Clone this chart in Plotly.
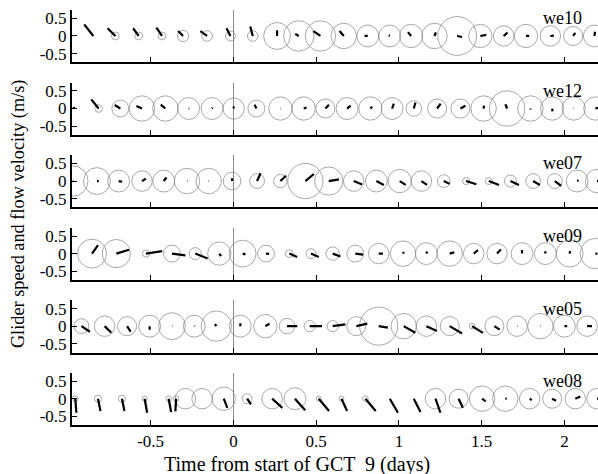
import plotly.graph_objects as go

# ---- glider records: sample time (days from start of GCT 9), glider speed (m/s),
# ---- depth-averaged flow components u (east) and v (north) in m/s
we10_t = [-0.846, -0.713, -0.572, -0.431, -0.304, -0.159, -0.018, 0.117, 0.264, 0.395, 0.526, 0.667,
          0.812, 0.945, 1.074, 1.215, 1.352, 1.492, 1.633, 1.768, 1.915, 2.053, 2.181]
we10_speed = [0.0, 0.11, 0.11, 0.11, 0.16, 0.15, 0.14, 0.15, 0.38, 0.43, 0.43, 0.36,
              0.31, 0.31, 0.33, 0.36, 0.55, 0.33, 0.29, 0.33, 0.29, 0.27, 0.31]
we10_u = [-0.26, -0.22, -0.16, -0.16, -0.14, -0.19, -0.11, -0.07, 0.0, -0.1, -0.2, -0.12,
          -0.09, -0.03, -0.09, 0.04, 0.14, 0.17, 0.11, 0.09, 0.1, 0.06, 0.02]
we10_v = [0.33, 0.22, 0.22, 0.24, 0.14, 0.14, 0.22, 0.27, 0.16, 0.06, 0.14, 0.14,
          0.0, 0.02, 0.11, 0.1, -0.03, 0.03, 0.1, 0.0, 0.01, 0.09, 0.12]

we12_t = [-0.96, -0.814, -0.683, -0.552, -0.411, -0.27, -0.129, 0.002, 0.139, 0.284, 0.425, 0.556,
          0.687, 0.828, 0.959, 1.09, 1.231, 1.372, 1.512, 1.654, 1.795, 1.926, 2.056, 2.187]
we12_speed = [0.0, 0.11, 0.24, 0.36, 0.36, 0.31, 0.31, 0.3, 0.24, 0.33, 0.33, 0.27,
              0.31, 0.33, 0.31, 0.22, 0.27, 0.27, 0.36, 0.5, 0.36, 0.33, 0.33, 0.33]
we12_u = [-0.03, -0.21, -0.16, -0.16, -0.13, 0.02, 0.02, 0.0, -0.05, 0.01, 0.08, 0.1,
          0.1, 0.05, 0.05, 0.05, 0.1, 0.14, 0.01, -0.05, 0.0, 0.01, 0.01, 0.08]
we12_v = [0.04, 0.26, 0.1, 0.07, 0.11, 0.0, 0.02, 0.06, 0.11, 0.0, 0.03, 0.11,
          0.08, 0.05, 0.14, 0.17, 0.14, 0.08, 0.08, 0.12, -0.03, -0.08, 0.0, 0.02]

we07_t = [-0.97, -0.824, -0.693, -0.552, -0.421, -0.28, -0.149, -0.008, 0.143, 0.284, 0.435, 0.576,
          0.727, 0.864, 1.005, 1.136, 1.271, 1.406, 1.543, 1.674, 1.811, 1.942, 2.077, 2.197]
we07_speed = [0.43, 0.38, 0.31, 0.29, 0.31, 0.36, 0.36, 0.25, 0.21, 0.19, 0.5, 0.4,
              0.29, 0.31, 0.33, 0.29, 0.18, 0.1, 0.1, 0.17, 0.21, 0.21, 0.31, 0.33]
we07_u = [0.02, 0.05, 0.1, 0.11, 0.08, 0.01, 0.01, 0.0, 0.1, 0.16, 0.24, 0.29,
          0.24, 0.21, 0.17, 0.16, 0.17, 0.29, 0.29, 0.24, 0.19, 0.18, 0.04, 0.06]
we07_v = [0.0, 0.0, -0.02, 0.07, 0.1, 0.0, 0.0, 0.08, 0.22, 0.15, 0.2, 0.05,
          -0.1, -0.11, -0.11, -0.11, -0.08, -0.09, -0.11, -0.11, -0.11, -0.14, 0.02, 0.0]

we09_t = [-0.854, -0.707, -0.528, -0.371, -0.23, -0.085, 0.056, 0.197, 0.338, 0.469, 0.6, 0.737,
          0.878, 1.025, 1.166, 1.307, 1.452, 1.593, 1.744, 1.885, 2.032, 2.187]
we09_speed = [0.41, 0.4, 0.1, 0.24, 0.17, 0.33, 0.38, 0.24, 0.11, 0.14, 0.19, 0.24,
              0.29, 0.36, 0.31, 0.36, 0.29, 0.29, 0.31, 0.31, 0.38, 0.43]
we09_u = [0.17, 0.36, 0.46, 0.38, 0.35, 0.05, 0.08, 0.09, 0.22, 0.22, 0.22, 0.22,
          0.12, 0.02, 0.02, 0.13, 0.12, 0.11, 0.0, 0.0, 0.01, 0.06]
we09_v = [0.24, 0.11, 0.07, -0.05, -0.14, -0.07, -0.02, -0.01, -0.1, -0.1, -0.08, -0.03,
          0.0, 0.05, 0.06, 0.04, 0.1, 0.12, 0.1, 0.07, 0.07, 0.0]

we05_t = [-0.918, -0.778, -0.642, -0.506, -0.371, -0.236, -0.103, 0.042, 0.193, 0.324, 0.461, 0.6,
          0.743, 0.878, 1.029, 1.166, 1.307, 1.442, 1.577, 1.714, 1.855, 2.0, 2.137]
we05_speed = [0.21, 0.29, 0.27, 0.31, 0.38, 0.31, 0.43, 0.31, 0.33, 0.22, 0.16, 0.16,
              0.27, 0.54, 0.36, 0.29, 0.27, 0.08, 0.27, 0.29, 0.36, 0.31, 0.29]
we05_u = [0.24, 0.19, 0.1, 0.0, 0.01, 0.01, -0.04, 0.0, 0.12, 0.29, 0.35, 0.36,
          0.31, 0.26, 0.33, 0.3, 0.35, 0.31, 0.15, 0.01, 0.01, 0.08, 0.14]
we05_v = [-0.16, -0.19, -0.16, -0.1, 0.0, 0.01, 0.06, 0.08, 0.07, 0.0, 0.0, 0.05,
          0.07, -0.04, -0.19, -0.14, -0.21, -0.19, -0.1, 0.0, 0.0, 0.0, 0.0]

we08_t = [-0.955, -0.818, -0.673, -0.536, -0.391, -0.346, -0.29, -0.189, -0.058, 0.083, 0.234, 0.372,
          0.516, 0.653, 0.798, 0.945, 1.09, 1.221, 1.361, 1.503, 1.643, 1.79, 1.926, 2.066, 2.197]
we08_speed = [0.08, 0.1, 0.1, 0.07, 0.08, 0.08, 0.29, 0.29, 0.33, 0.14, 0.29, 0.31,
              0.07, 0.07, 0.08, 0.0, 0.0, 0.29, 0.27, 0.36, 0.36, 0.29, 0.27, 0.29, 0.29]
we08_u = [0.03, 0.07, 0.07, 0.07, 0.07, -0.02, 0.0, 0.0, 0.1, 0.11, 0.29, 0.29,
          0.29, 0.16, 0.29, 0.23, 0.19, 0.14, 0.12, 0.1, 0.04, 0.06, 0.11, 0.14, 0.06]
we08_v = [-0.4, -0.35, -0.35, -0.4, -0.38, -0.36, 0.0, 0.0, -0.26, -0.16, -0.26, -0.33,
          -0.35, -0.35, -0.35, -0.4, -0.38, -0.4, -0.26, -0.08, 0.0, -0.04, -0.06, 0.06, 0.0]

glider_names = ["we10", "we12", "we07", "we09", "we05", "we08"]
panels = [
    (we10_t, we10_speed, we10_u, we10_v),
    (we12_t, we12_speed, we12_u, we12_v),
    (we07_t, we07_speed, we07_u, we07_v),
    (we09_t, we09_speed, we09_u, we09_v),
    (we05_t, we05_speed, we05_u, we05_v),
    (we08_t, we08_speed, we08_u, we08_v),
]

x_tickvals = [-0.5, 0, 0.5, 1, 1.5, 2]
x_ticktext = ["-0.5", "0", "0.5", "1", "1.5", "2"]
y_tickvals = [-0.5, 0, 0.5]
y_ticktext = ["-0.5", "0", "0.5"]

# ---- page geometry
W, H = 598, 474
ML = 72
X_RANGE = [-0.975, 2.203]
Y_RANGE = [-0.75, 0.74]
PANEL_TOP = 9.0
PANEL_STEP = 72.85
PANEL_H = 52.6

px_per_day = (W - ML) / (X_RANGE[1] - X_RANGE[0])
px_per_ms = PANEL_H / (Y_RANGE[1] - Y_RANGE[0])
# flow arrows are drawn with equal pixel scaling in both directions
u_to_days = px_per_ms / px_per_day

FONT = "'Liberation Serif', 'Times New Roman', Times, 'DejaVu Serif', serif"
TICK_SIZE = 17
CIRCLE_GREY = "#858585"

fig = go.Figure()
layout = dict(
    width=W, height=H,
    margin=dict(l=ML, r=0, t=0, b=0),
    paper_bgcolor="white", plot_bgcolor="white",
    showlegend=False,
    font=dict(family=FONT, size=TICK_SIZE, color="black"),
)

annotations = []
n = len(panels)
for k, (name, (t, spd, u, v)) in enumerate(zip(glider_names, panels)):
    idx = "" if k == 0 else str(k + 1)
    top_idx = str(n + k + 1)
    top = PANEL_TOP + k * PANEL_STEP
    dom = [1 - (top + PANEL_H) / H, 1 - top / H]

    # glider speed: open circles with radius proportional to speed
    ct = [ti for ti, s in zip(t, spd) if s > 0]
    cs = [s for s in spd if s > 0]
    fig.add_trace(go.Scatter(
        x=ct, y=[0] * len(ct), mode="markers",
        marker=dict(symbol="circle-open", size=[2 * s * px_per_ms for s in cs],
                    color=CIRCLE_GREY, line=dict(width=1, color=CIRCLE_GREY)),
        xaxis="x" + idx, yaxis="y" + idx, hoverinfo="skip",
    ))

    # flow velocity: segment from each sample point along (u, v)
    sx, sy = [], []
    for ti, ui, vi in zip(t, u, v):
        sx += [ti, ti + ui * u_to_days, None]
        sy += [0, vi, None]
    fig.add_trace(go.Scatter(
        x=sx, y=sy, mode="lines",
        line=dict(color="black", width=2.2),
        xaxis="x" + idx, yaxis="y" + idx, hoverinfo="skip",
    ))

    last = k == n - 1
    layout["xaxis" + idx] = dict(
        domain=[0, 1], range=X_RANGE, anchor="y" + idx,
        tickmode="array", tickvals=x_tickvals, ticktext=x_ticktext,
        ticks="inside", ticklen=5, tickwidth=1, tickcolor="black",
        showticklabels=last, showgrid=False,
        zeroline=True, zerolinecolor="#8a8a8a", zerolinewidth=1,
        showline=True, linecolor="black", linewidth=2,
        tickfont=dict(family=FONT, size=TICK_SIZE, color="black"),
    )
    # thin upper frame with its own inward ticks
    layout["xaxis" + top_idx] = dict(
        overlaying="x" + idx, side="top", anchor="y" + idx, range=X_RANGE,
        tickmode="array", tickvals=x_tickvals,
        ticks="inside", ticklen=5, tickwidth=1, tickcolor="#333",
        showticklabels=False, showgrid=False, zeroline=False,
        showline=True, linecolor="#333", linewidth=1,
    )
    layout["yaxis" + idx] = dict(
        domain=dom, range=Y_RANGE, anchor="x" + idx,
        tickmode="array", tickvals=y_tickvals, ticktext=y_ticktext,
        ticks="inside", ticklen=5, tickwidth=1, tickcolor="black",
        showgrid=False, zeroline=False,
        showline=True, linecolor="black", linewidth=2,
        tickfont=dict(family=FONT, size=TICK_SIZE, color="black"),
    )
    annotations.append(dict(
        text=name, xref=f"x{idx} domain", yref=f"y{idx} domain",
        x=0.933, y=0.84, xanchor="center", yanchor="middle", showarrow=False,
        font=dict(family=FONT, size=18, color="black"),
    ))

annotations.append(dict(
    text="Time from start of GCT  9 (days)", xref="paper", yref="paper",
    x=(297 - ML) / (W - ML), y=1 - 465 / H, xanchor="center", yanchor="middle",
    showarrow=False, font=dict(family=FONT, size=20, color="black"),
))
annotations.append(dict(
    text="Glider speed and flow velocity (m/s)", xref="paper", yref="paper",
    x=(18 - ML) / (W - ML), y=1 - 214 / H, xanchor="center", yanchor="middle",
    textangle=-90, showarrow=False, font=dict(family=FONT, size=18.3, color="black"),
))
layout["annotations"] = annotations

fig.update_layout(**layout)
fig.write_html("out.html")
